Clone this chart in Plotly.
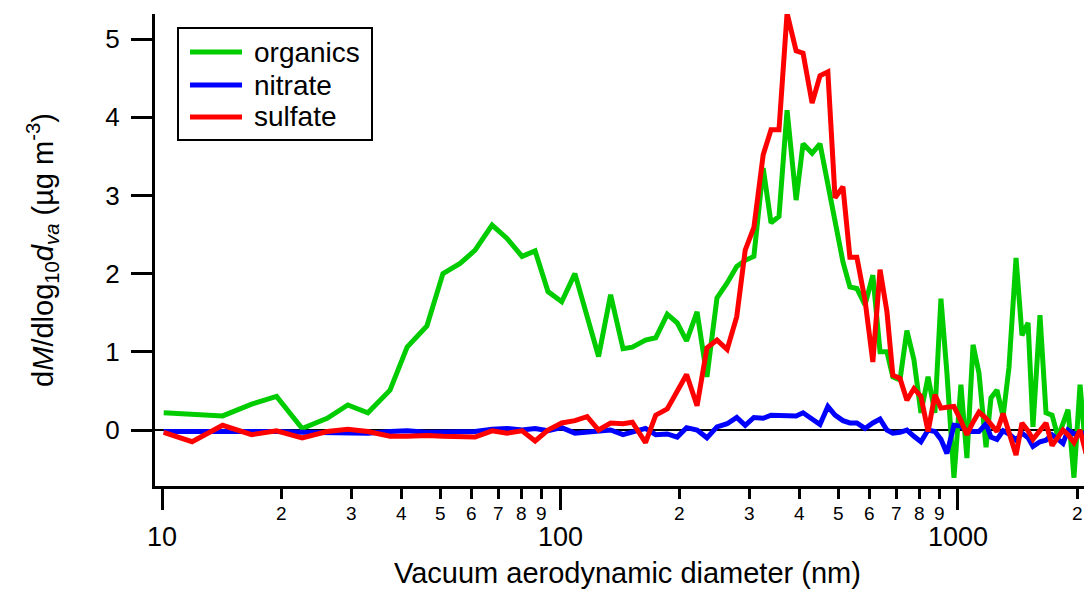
import math
import plotly.graph_objects as go

# Vacuum aerodynamic diameter bins (nm)
diameter = [10.1, 11.9, 14.2, 16.8, 19.4, 22.5, 26.0, 29.3, 32.9, 37.4,
            41.3, 46.3, 50.8, 56.1, 61.2, 67.5, 73.6, 80.3, 86.6, 93.3,
            101, 109, 117, 125, 134, 144, 152, 164, 174, 186,
            197, 208, 221, 234, 248, 263, 278, 292, 307, 324,
            339, 355, 372, 392, 408, 430, 450, 471, 491, 514,
            535, 557, 584, 611, 637, 663, 686, 715, 744, 775,
            807, 841, 875, 906, 938, 977, 1017, 1053, 1091, 1129,
            1176, 1210, 1253, 1298, 1343, 1399, 1448, 1500, 1543, 1607,
            1664, 1723, 1784, 1836, 1890, 1956, 2026, 2097]

organics = [0.22, 0.20, 0.18, 0.33, 0.43, 0.02, 0.15, 0.32, 0.22, 0.51,
            1.06, 1.33, 2.00, 2.13, 2.30, 2.62, 2.45, 2.22, 2.29, 1.77,
            1.64, 2.00, 1.47, 0.94, 1.73, 1.04, 1.06, 1.15, 1.18, 1.48,
            1.37, 1.14, 1.51, 0.68, 1.69, 1.88, 2.09, 2.17, 2.22, 3.35,
            2.65, 2.73, 4.09, 2.94, 3.66, 3.54, 3.66, 3.16, 2.69, 2.15,
            1.83, 1.81, 1.60, 1.98, 1.00, 1.00, 0.68, 0.64, 1.27, 0.90,
            0.22, 0.68, 0.22, 1.68, 0.73, -0.61, 0.58, -0.36, 1.09, 0.73,
            -0.22, 0.41, 0.51, 0.17, 0.80, 2.20, 1.21, 1.37, 0.04, 1.47,
            0.22, 0.19, -0.09, 0.10, 0.26, -0.61, 0.58, -0.30]

nitrate = [-0.02, -0.02, -0.01, -0.02, -0.02, -0.03, -0.03, -0.03, -0.04, -0.02,
           -0.01, -0.03, -0.03, -0.03, -0.02, 0.01, 0.02, 0.00, 0.02, -0.01,
           0.03, -0.04, -0.03, -0.02, 0.00, -0.06, -0.02, 0.02, -0.06, -0.05,
           -0.09, 0.03, 0.00, -0.10, 0.04, 0.08, 0.16, 0.06, 0.16, 0.15,
           0.19, 0.19, 0.19, 0.18, 0.22, 0.13, 0.07, 0.30, 0.19, 0.12,
           0.09, 0.09, 0.02, 0.09, 0.14, 0.00, -0.04, -0.03, 0.00, -0.08,
           -0.15, 0.00, -0.02, -0.12, -0.30, 0.06, 0.05, -0.02, -0.02, -0.02,
           0.08, -0.09, -0.12, -0.01, -0.05, -0.13, -0.04, -0.10, -0.21, -0.15,
           -0.13, -0.06, -0.12, -0.17, 0.00, -0.05, -0.04, -0.04]

sulfate = [-0.03, -0.15, 0.06, -0.06, -0.01, -0.10, -0.02, 0.01, -0.02, -0.08,
           -0.08, -0.07, -0.08, -0.08, -0.09, -0.01, -0.04, -0.01, -0.14, 0.00,
           0.09, 0.12, 0.17, 0.00, 0.09, 0.08, 0.10, -0.16, 0.19, 0.27,
           0.49, 0.71, 0.31, 1.05, 1.15, 1.03, 1.45, 2.30, 2.59, 3.52,
           3.84, 3.84, 5.33, 4.85, 4.82, 4.18, 4.53, 4.58, 2.97, 3.11,
           2.21, 2.21, 1.66, 0.87, 2.05, 1.51, 0.70, 0.66, 0.38, 0.53,
           0.43, -0.02, 0.45, 0.28, 0.29, 0.30, 0.12, -0.06, 0.10, 0.23,
           0.15, 0.07, -0.02, 0.21, -0.05, -0.32, 0.09, -0.01, -0.12, 0.00,
           0.09, -0.20, -0.10, 0.00, -0.06, -0.16, 0.00, -0.30]

series_names = ["organics", "nitrate", "sulfate"]
series_colors = ["#00CC00", "#0000FF", "#FF0000"]

major_ticks = [10, 100, 1000]
major_labels = ["10", "100", "1000"]
minor_ticks = [m * d for d in (10, 100, 1000) for m in range(2, 10)]
minor_labels = [str(m) for d in (10, 100, 1000) for m in range(2, 10)]

y_ticks = [0, 1, 2, 3, 4, 5]

x_title = "Vacuum aerodynamic diameter (nm)"
y_title = "d<i>M</i>/dlog<sub>10</sub><i>d</i><sub><i>va</i></sub> (µg m<sup>-3</sup>)"

FONT = "Liberation Sans, Arial, Helvetica, sans-serif"
x_range_log = [0.9824, 3.3166]
y_range = [-0.716, 5.32]

W, H = 1084, 590
ML, MR, MT, MB = 155, 0, 14, 104
PW, PH = W - ML - MR, H - MT - MB


def px_x(px):
    return (px - ML) / PW


def px_y(py):
    return (H - MB - py) / PH


fig = go.Figure()
for name, vals, col in zip(series_names, [organics, nitrate, sulfate], series_colors):
    fig.add_trace(go.Scatter(x=diameter, y=vals, mode="lines", name=name,
                             line=dict(color=col, width=5), showlegend=False))

# legend box drawn in paper space
shapes = [dict(type="rect", xref="paper", yref="paper",
               x0=px_x(178), x1=px_x(372), y0=px_y(140), y1=px_y(28),
               line=dict(color="black", width=2), fillcolor="white", layer="above")]
annotations = []
row_y = [52, 85, 117]
for name, col, ry in zip(series_names, series_colors, row_y):
    shapes.append(dict(type="line", xref="paper", yref="paper",
                       x0=px_x(190), x1=px_x(242), y0=px_y(ry), y1=px_y(ry),
                       line=dict(color=col, width=5), layer="above"))
    annotations.append(dict(text=name, xref="paper", yref="paper",
                            x=px_x(252), y=px_y(ry), xanchor="left", yanchor="middle",
                            showarrow=False, font=dict(size=28, family=FONT, color="black")))

# x tick labels (Igor-style: small minor digits, large decade labels below)
for v, t in zip(minor_ticks, minor_labels):
    annotations.append(dict(text=t, xref="x", yref="paper", x=math.log10(v), y=px_y(513),
                            xanchor="center", yanchor="middle", showarrow=False,
                            font=dict(size=19, family=FONT, color="black")))
for v, t in zip(major_ticks, major_labels):
    annotations.append(dict(text=t, xref="x", yref="paper", x=math.log10(v), y=px_y(537),
                            xanchor="center", yanchor="middle", showarrow=False,
                            font=dict(size=27, family=FONT, color="black")))
annotations.append(dict(text=x_title, xref="paper", yref="paper",
                        x=px_x(627), y=px_y(573), xanchor="center", yanchor="middle",
                        showarrow=False, font=dict(size=29, family=FONT, color="black")))

fig.update_layout(
    width=W, height=H,
    margin=dict(l=ML, r=MR, t=MT, b=MB),
    paper_bgcolor="white", plot_bgcolor="white",
    font=dict(family=FONT, color="black"),
    showlegend=False,
    shapes=shapes, annotations=annotations,
    xaxis=dict(type="log", range=x_range_log, showgrid=False, zeroline=False,
               showline=True, linecolor="black", linewidth=3,
               ticks="outside", ticklen=21, tickwidth=3, tickcolor="black",
               tickmode="array", tickvals=major_ticks, showticklabels=False,
               minor=dict(ticks="outside", ticklen=10, tickwidth=2.5, tickcolor="black",
                          tickmode="array", tickvals=minor_ticks, showgrid=False)),
    yaxis=dict(range=y_range, showgrid=False, showline=True, linecolor="black",
               linewidth=3, ticks="outside", ticklen=21, tickwidth=3,
               tickcolor="black", tickmode="array", tickvals=y_ticks,
               tickfont=dict(size=26), ticklabelstandoff=6,
               zeroline=True, zerolinecolor="black", zerolinewidth=2,
               title=dict(text=y_title, font=dict(size=29), standoff=44)),
)

fig.write_html("out.html")
